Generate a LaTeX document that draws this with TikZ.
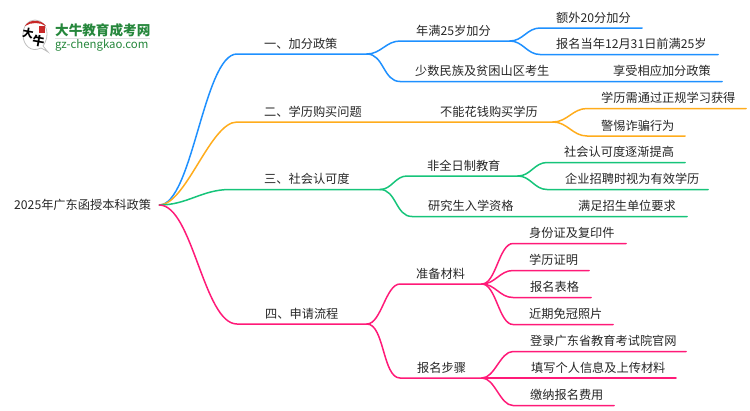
\documentclass[tikz,border=0pt]{standalone}
\usepackage{fontspec}
\setmainfont{Noto Sans CJK SC}
\definecolor{bluebranch}{RGB}{30,144,255}
\definecolor{orangebranch}{RGB}{255,172,28}
\definecolor{greenbranch}{RGB}{22,196,122}
\definecolor{pinkbranch}{RGB}{255,26,120}
\definecolor{logogreen}{RGB}{38,135,60}
\definecolor{logored}{RGB}{200,40,40}
\tikzset{
  lab/.style={anchor=west,inner sep=0pt,text=black!85,font=\fontsize{12.2}{14}\selectfont},
  link/.style={out=0,in=180},
  branch/.style={line width=1.5pt,line cap=round}
}

\begin{document}
\begin{tikzpicture}[x=1pt,y=1pt,yscale=-1,xscale=1]
\useasboundingbox (0,0) rectangle (750,410);

%Logo
\draw [black!25,line width=0.8pt,fill=white] (48,52) .. controls (45,50) and (43,49) .. (41,48) .. controls (31,53) and (23,45) .. (23,35) .. controls (23,26) and (28,20) .. (35,20) .. controls (42,20) and (47,26) .. (47,34) .. controls (47,39) and (45,43) .. (43,46) -- cycle ;
\fill [logored] (25,26) .. controls (29,19) and (41,19) .. (46,26) .. controls (40,22) and (31,22) .. (25,26) -- cycle ;
\fill [logored] (39,26) rectangle (45,33) ;
\node [inner sep=0pt,rotate=-10,font=\fontsize{11}{12}\bfseries\selectfont] (logoda) at (28,33) {大};
\node [inner sep=0pt,rotate=-10,font=\fontsize{12}{13}\bfseries\selectfont] (logoniu) at (38.5,41.5) {牛};
\node [anchor=west,inner sep=0pt,text=logogreen,font=\fontsize{13.6}{15}\bfseries\selectfont] (logoname) at (55,30) {大牛教育成考网};
\draw [black!12,line width=0.8pt] (55,38.5) -- (150,38.5) ;
\node [anchor=west,inner sep=0pt,text=logogreen,font=\fontsize{11.4}{13}\selectfont] (logourl) at (55,45.5) {gz-chengkao.com};

%Root
\node [lab,inner xsep=8pt] (root) at (6,205) {2025年广东函授本科政策};

%Branch one
\node [lab] (a) at (264,43.5) {一、加分政策};
\coordinate (as) at (237,54); \coordinate (ae) at (367,54);
\draw [branch,bluebranch] (root.east) to[link,looseness=0.5] (as) -- (ae) ;
\node [lab] (aa) at (416,30.5) {年满25岁加分};
\coordinate (aas) at (400,41); \coordinate (aae) at (510,41);
\draw [branch,bluebranch] (ae) to[link] (aas) -- (aae) ;
\node [lab] (aaa) at (556,17.5) {额外20分加分};
\coordinate (aaas) at (540,28); \coordinate (aaae) at (642,28);
\draw [branch,bluebranch] (aae) to[link] (aaas) -- (aaae) ;
\node [lab] (aab) at (556,44) {报名当年12月31日前满25岁};
\coordinate (aabs) at (540,54.5); \coordinate (aabe) at (718,54.5);
\draw [branch,bluebranch] (aae) to[link] (aabs) -- (aabe) ;
\node [lab] (ab) at (415,71) {少数民族及贫困山区考生};
\node [lab] (aba) at (613,71) {享受相应加分政策};
\coordinate (abs) at (400,81.5); \coordinate (abe) at (722,81.5);
\draw [branch,bluebranch] (ae) to[link] (abs) -- (abe) ;

%Branch two
\node [lab] (b) at (264,111.5) {二、学历购买问题};
\node [lab] (ba) at (440,111.5) {不能花钱购买学历};
\coordinate (bs) at (237,122); \coordinate (be) at (553,122);
\draw [branch,orangebranch] (root.east) to[link,looseness=0.6] (bs) -- (be) ;
\node [lab] (baa) at (601,98) {学历需通过正规学习获得};
\coordinate (baas) at (587,108.5); \coordinate (baae) at (746,108.5);
\draw [branch,orangebranch] (be) to[link] (baas) -- (baae) ;
\node [lab] (bab) at (601,125.5) {警惕诈骗行为};
\coordinate (babs) at (587,136); \coordinate (babe) at (685,136);
\draw [branch,orangebranch] (be) to[link] (babs) -- (babe) ;

%Branch three
\node [lab] (c) at (264,179) {三、社会认可度};
\coordinate (cs) at (230,189.5); \coordinate (ce) at (380,189.5);
\draw [branch,greenbranch] (root.east) to[link,looseness=1] (cs) -- (ce) ;
\node [lab] (ca) at (427,165.5) {非全日制教育};
\coordinate (cas) at (407,176); \coordinate (cae) at (518,176);
\draw [branch,greenbranch] (ce) to[link] (cas) -- (cae) ;
\node [lab] (caa) at (564,152) {社会认可度逐渐提高};
\coordinate (caas) at (547,162.5); \coordinate (caae) at (685,162.5);
\draw [branch,greenbranch] (cae) to[link] (caas) -- (caae) ;
\node [lab] (cab) at (565,179) {企业招聘时视为有效学历};
\coordinate (cabs) at (547,189.5); \coordinate (cabe) at (708,189.5);
\draw [branch,greenbranch] (cae) to[link] (cabs) -- (cabe) ;
\node [lab] (cb) at (428,206) {研究生入学资格};
\node [lab] (cba) at (578,206) {满足招生单位要求};
\coordinate (cbs) at (412,216.5); \coordinate (cbe) at (687,216.5);
\draw [branch,greenbranch] (ce) to[link] (cbs) -- (cbe) ;

%Branch four
\node [lab] (d) at (265,313.5) {四、申请流程};
\coordinate (ds) at (237,324); \coordinate (de) at (367,324);
\draw [branch,pinkbranch] (root.east) to[link,looseness=0.6] (ds) -- (de) ;
\node [lab] (da) at (416,273.5) {准备材料};
\coordinate (das) at (400,284); \coordinate (dae) at (482,284);
\draw [branch,pinkbranch] (de) to[link,looseness=0.7] (das) -- (dae) ;
\node [lab] (daa) at (529,233) {身份证及复印件};
\coordinate (daas) at (513,243.5); \coordinate (daae) at (626,243.5);
\draw [branch,pinkbranch] (dae) to[link,looseness=0.7] (daas) -- (daae) ;
\node [lab] (dab) at (529,260) {学历证明};
\coordinate (dabs) at (513,270.5); \coordinate (dabe) at (589,270.5);
\draw [branch,pinkbranch] (dae) to[link] (dabs) -- (dabe) ;
\node [lab] (dac) at (530,287) {报名表格};
\coordinate (dacs) at (513,297.5); \coordinate (dace) at (591,297.5);
\draw [branch,pinkbranch] (dae) to[link] (dacs) -- (dace) ;
\node [lab] (dad) at (529,314) {近期免冠照片};
\coordinate (dads) at (513,324.5); \coordinate (dade) at (613,324.5);
\draw [branch,pinkbranch] (dae) to[link,looseness=0.7] (dads) -- (dade) ;
\node [lab] (db) at (417,367.5) {报名步骤};
\coordinate (dbs) at (400,378); \coordinate (dbe) at (482,378);
\draw [branch,pinkbranch] (de) to[link,looseness=0.7] (dbs) -- (dbe) ;
\node [lab] (dba) at (530,341) {登录广东省教育考试院官网};
\coordinate (dbas) at (513,351.5); \coordinate (dbae) at (686,351.5);
\draw [branch,pinkbranch] (dbe) to[link,looseness=0.8] (dbas) -- (dbae) ;
\node [lab] (dbb) at (531,367.5) {填写个人信息及上传材料};
\coordinate (dbbe) at (676,378);
\draw [branch,pinkbranch] (dbe) -- (dbbe) ;
\node [lab] (dbc) at (530,395) {缴纳报名费用};
\coordinate (dbcs) at (513,405.5); \coordinate (dbce) at (614,405.5);
\draw [branch,pinkbranch] (dbe) to[link,looseness=0.8] (dbcs) -- (dbce) ;
\end{tikzpicture}
\end{document}
